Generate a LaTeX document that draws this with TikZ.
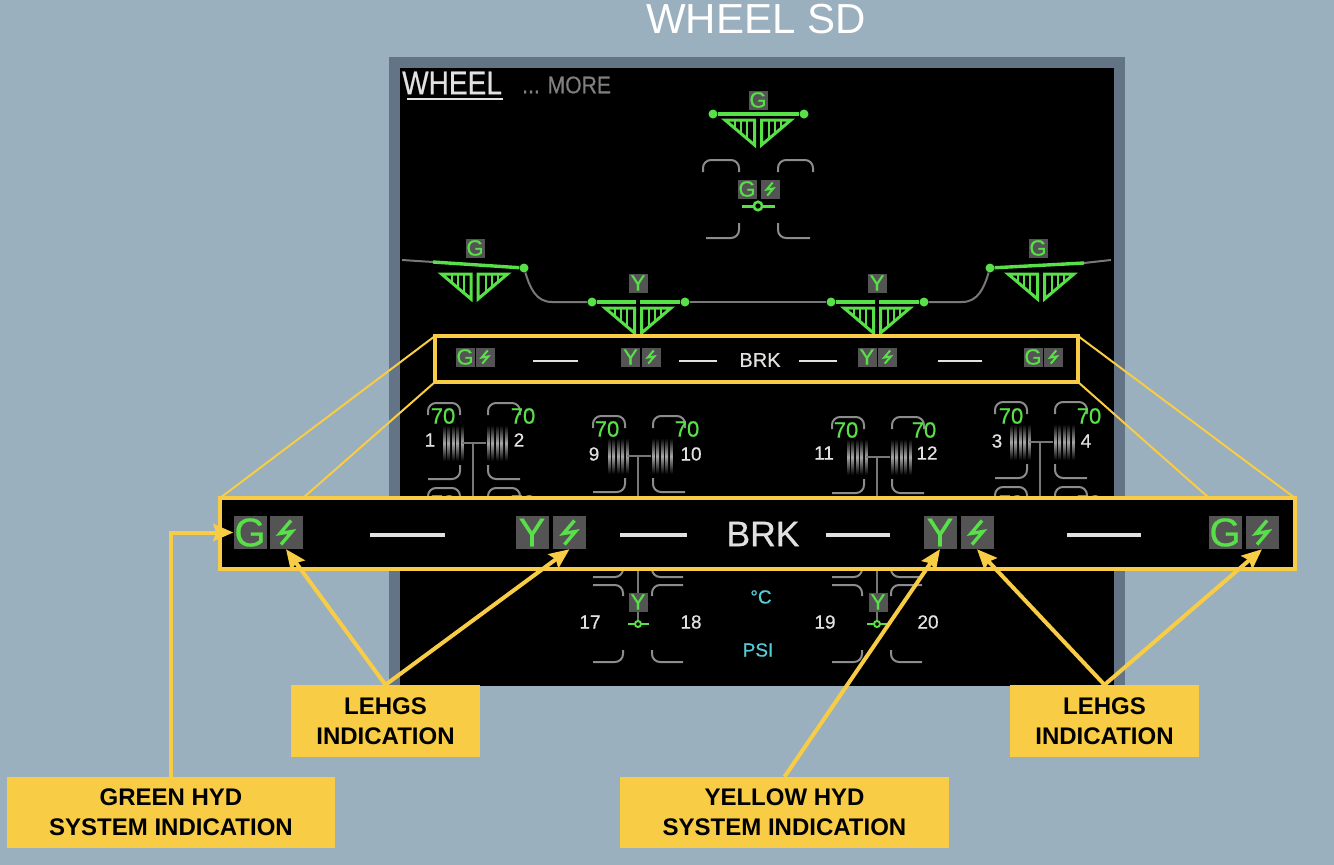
\documentclass[tikz,border=0pt]{standalone}
\usepackage{fontspec}
\setmainfont{Liberation Sans}
\newfontfamily\ecamfont[FakeBold=0.6]{Liberation Sans}
\usetikzlibrary{arrows.meta, calc}
\definecolor{skybg}{RGB}{155,176,190}
\definecolor{slateframe}{RGB}{100,116,135}
\definecolor{callyellow}{RGB}{248,204,68}
\definecolor{ecamgreen}{RGB}{88,224,72}
\definecolor{taggray}{RGB}{84,84,84}
\definecolor{linegray}{RGB}{120,120,120}
\definecolor{capgray}{RGB}{140,140,140}
\definecolor{numwhite}{RGB}{225,225,225}
\definecolor{ecamcyan}{RGB}{85,205,215}
\tikzset{
  smalltag/.style={rectangle, fill=taggray, text=ecamgreen, inner sep=0pt,
    minimum width=19pt, minimum height=19pt, font=\ecamfont\fontsize{22}{22}\selectfont},
  bigtag/.style={rectangle, fill=taggray, text=ecamgreen, inner sep=0pt,
    minimum width=33pt, minimum height=33pt, font=\ecamfont\fontsize{40}{40}\selectfont},
  smallbolt/.style={draw=ecamgreen, line width=2pt},
  bigbolt/.style={draw=ecamgreen, line width=3.4pt},
  brakeline/.style={draw=ecamgreen, line width=3pt, line join=miter},
  brakebar/.style={draw=ecamgreen, line width=3.4pt},
  dotend/.style={circle, fill=ecamgreen, inner sep=0pt, minimum size=9pt},
  hydline/.style={draw=linegray, line width=2pt},
  capline/.style={draw=capgray, line width=2pt, rounded corners=8pt},
  tempval/.style={text=ecamgreen, inner sep=0pt, font=\ecamfont\fontsize{22}{22}\selectfont},
  wheelnum/.style={text=numwhite, inner sep=0pt, font=\ecamfont\fontsize{19}{19}\selectfont},
  unitlabel/.style={text=ecamcyan, inner sep=0pt, font=\ecamfont\fontsize{19}{19}\selectfont},
  callbox/.style={rectangle, fill=callyellow, text=black, align=center, inner sep=0pt,
    font=\fontsize{24}{30}\selectfont\bfseries},
  callarrow/.style={-{Stealth[length=20pt,width=17pt,inset=3pt]}, draw=callyellow, line width=4pt},
  zoomline/.style={draw=callyellow, line width=2pt},
  brkdash/.style={draw=numwhite, line width=2.6pt}
}
\newcommand{\brakesym}[2]{
  \draw[brakeline] (#1-33,#2) -- (#1-3.5,#2) -- (#1-3.5,#2+25) -- cycle;
  \draw[brakeline] (#1+33,#2) -- (#1+3.5,#2) -- (#1+3.5,#2+25) -- cycle;
  \foreach \d in {10,16,22} {
    \draw[brakeline, line width=2pt] (#1-33+\d,#2) -- ++(0,\d*0.85);
    \draw[brakeline, line width=2pt] (#1+33-\d,#2) -- ++(0,\d*0.85);
  }
}
\newcommand{\tirestripes}[2]{
  \foreach \s in {0,4.5,9,13.5,18}
    \shade[top color=black, bottom color=black, middle color=white!65!black]
      (#1+\s,#2-18) rectangle ++(2.6,36);
}
\begin{document}
\begin{tikzpicture}[x=1pt,y=-1pt]
  \fill[skybg] (0,0) rectangle (1334,865);
  \useasboundingbox (0,0) rectangle (1334,865);
  \fill[slateframe] (389,57) rectangle (1125,686);
  \fill[black] (400,68) rectangle (1114,686);
  \node[text=white, inner sep=0pt, font=\fontsize{42}{42}\selectfont] (title) at (756,19) {WHEEL SD};
  \node[anchor=west, text=numwhite, inner sep=0pt, font=\ecamfont\fontsize{33}{33}\selectfont] (wheelhead) at (402,83) {\scalebox{0.85}[1]{WHEEL}};
  \draw[numwhite, line width=2.4pt] (407,99) -- (503,99);
  \node[anchor=west, text=gray, inner sep=0pt, font=\ecamfont\fontsize{24}{24}\selectfont] (morehead) at (522,85) {\scalebox{0.88}[1]{... MORE}};

  \brakesym{758}{120}
  \brakesym{474.5}{274}
  \brakesym{638}{308}
  \brakesym{877}{308}
  \brakesym{1041}{274}

  \coordinate (farleft) at (402,260);
  \coordinate (leftstart) at (433,262);
  \coordinate (farright) at (1111,260);
  \coordinate (rightend) at (1084,263);
  \node[dotend] (topa) at (713,114) {};
  \node[dotend] (topb) at (804,114) {};
  \node[dotend] (lefta) at (524,268) {};
  \node[dotend] (ya) at (592,302) {};
  \node[dotend] (yb) at (685,302) {};
  \node[dotend] (yc) at (831,302) {};
  \node[dotend] (yd) at (924,302) {};
  \node[dotend] (righta) at (990,268) {};
  \draw[hydline] (farleft) -- (leftstart);
  \draw[hydline] (farright) -- (rightend);
  \draw[hydline] (lefta) .. controls (530,288) and (536,302) .. (552,302) -- (ya);
  \draw[hydline] (yb) -- (yc);
  \draw[hydline] (yd) -- (962,302) .. controls (978,302) and (984,288) .. (righta);
  \draw[brakebar] (topa) -- (topb);
  \draw[brakebar] (leftstart) -- (lefta);
  \draw[brakebar] (righta) -- (rightend);
  \draw[brakebar] (ya) -- (636,302);
  \draw[brakebar] (640,302) -- (yb);
  \draw[brakebar] (yc) -- (875,302);
  \draw[brakebar] (879,302) -- (yd);

  \node[smalltag] (gtop) at (758,100) {G};
  \node[smalltag] (gleft) at (475,248) {G};
  \node[smalltag] (yleft) at (638,283) {Y};
  \node[smalltag] (yright) at (877,283) {Y};
  \node[smalltag] (gright) at (1038,248) {G};

  \draw[capline] (703,172) -- (703,160) -- (739,160) -- (739,172);
  \draw[capline] (778,172) -- (778,160) -- (813,160) -- (813,172);
  \draw[capline] (706,238) -- (739,238) -- (739,223);
  \draw[capline] (778,223) -- (778,238) -- (810,238);
  \node[smalltag] (gnose) at (747,189) {G};
  \node[smalltag] (boltnose) at (770,189) {};
  \draw[ecamgreen, line width=3pt] (742,206) -- (775,206);
  \draw[ecamgreen, line width=2.6pt, fill=black] (758,206) circle (4.2);

  \foreach \ax/\ay in {473/443, 638/456, 877/457, 1040/442} {
    \draw[capline] (\ax-45,\ay-28) -- (\ax-45,\ay-40) -- (\ax-13,\ay-40) -- (\ax-13,\ay-28);
    \draw[capline] (\ax+15,\ay-28) -- (\ax+15,\ay-40) -- (\ax+47,\ay-40) -- (\ax+47,\ay-28);
    \draw[capline] (\ax-45,\ay+36) -- (\ax-13,\ay+36) -- (\ax-13,\ay+22);
    \draw[capline] (\ax+15,\ay+22) -- (\ax+15,\ay+36) -- (\ax+47,\ay+36);
    \draw[capline] (\ax-45,\ay+62) -- (\ax-45,\ay+45) -- (\ax-13,\ay+45) -- (\ax-13,\ay+62);
    \draw[capline] (\ax+15,\ay+62) -- (\ax+15,\ay+45) -- (\ax+47,\ay+45) -- (\ax+47,\ay+62);
    \tirestripes{\ax-30}{\ay}
    \tirestripes{\ax+14}{\ay}
    \draw[hydline, line width=2.4pt] (\ax-11,\ay) -- (\ax+13,\ay);
    \draw[hydline, line width=2.4pt] (\ax,\ay) -- (\ax,498);
  }
  \foreach \vx/\vy/\txt in {443/416/70, 523/416/70, 607/429/70, 687/429/70,
      846/430/70, 924/430/70, 1011/416/70, 1089/416/70,
      443/503/70, 523/503/70, 1011/503/70, 1089/503/70}
    \node[tempval] at (\vx,\vy) {\txt};
  \foreach \nx/\ny/\txt in {430/440/1, 519/440/2, 594/454/9, 691/454/10,
      824/453/11, 927/453/12, 997/441/3, 1086/441/4,
      590/622/17, 691/622/18, 825/622/19, 928/622/20}
    \node[wheelnum] at (\nx,\ny) {\txt};
  \foreach \ax in {638,877} {
    \draw[capline] (\ax-45,577) -- (\ax-15,577) -- (\ax-15,566);
    \draw[capline] (\ax+14,566) -- (\ax+14,577) -- (\ax+45,577);
    \draw[capline] (\ax-45,585) -- (\ax-15,585) -- (\ax-15,596);
    \draw[capline] (\ax+14,596) -- (\ax+14,585) -- (\ax+45,585);
    \draw[capline] (\ax-45,662) -- (\ax-15,662) -- (\ax-15,650);
    \draw[capline] (\ax+14,650) -- (\ax+14,662) -- (\ax+45,662);
    \draw[hydline, line width=2.4pt] (\ax,570) -- (\ax,624);
    \draw[ecamgreen, line width=2.8pt] (\ax-10,624) -- (\ax+11,624);
    \draw[ecamgreen, line width=2pt, fill=black] (\ax,624) circle (3);
  }
  \node[smalltag] (ylow) at (638,602) {Y};
  \node[smalltag] (ylowb) at (878,602) {Y};
  \node[unitlabel] (degc) at (761,597) {°C};
  \node[unitlabel] (psi) at (758,650) {PSI};

  \node[smalltag] (ga) at (465,357) {G};
  \node[smalltag] (boltsa) at (485,357) {};
  \node[smalltag] (yb1) at (630.5,357) {Y};
  \node[smalltag] (boltsb) at (651,357) {};
  \node[smalltag] (yc1) at (867,357) {Y};
  \node[smalltag] (boltsc) at (887.5,357) {};
  \node[smalltag] (gd) at (1033,357) {G};
  \node[smalltag] (boltsd) at (1053.5,357) {};
  \draw[brkdash] (533,361) -- (578,361);
  \draw[brkdash] (679,361) -- (717,361);
  \draw[brkdash] (799,361) -- (837,361);
  \draw[brkdash] (938,361) -- (982,361);
  \node[text=numwhite, inner sep=0pt, font=\ecamfont\fontsize{20}{20}\selectfont] (brksmall) at (760,360) {BRK};
  \node[rectangle, draw=callyellow, line width=3.5pt, inner sep=0pt, outer sep=0pt,
    minimum width=643pt, minimum height=46pt] (bandsmall) at (756.5,359) {};

  \coordinate (fanb) at (303,498);
  \coordinate (fanc) at (1209,498);
  \node[rectangle, fill=black, draw=callyellow, line width=3.5pt, inner sep=0pt, outer sep=0pt,
    minimum width=1075pt, minimum height=71pt] (bandbig) at (757.5,533.5) {};
  \draw[zoomline] (bandsmall.north west) -- (bandbig.north west);
  \draw[zoomline] (bandsmall.south west) -- (fanb);
  \draw[zoomline] (bandsmall.north east) -- (bandbig.north east);
  \draw[zoomline] (bandsmall.south east) -- (fanc);

  \node[bigtag] (gbiga) at (250,532.5) {G};
  \node[bigtag] (boltbiga) at (286,532.5) {};
  \node[bigtag] (ybigb) at (532,532.5) {Y};
  \node[bigtag] (boltbigb) at (569.5,532.5) {};
  \node[bigtag] (ybigc) at (940,532.5) {Y};
  \node[bigtag] (boltbigc) at (977,532.5) {};
  \node[bigtag] (gbigd) at (1225,532.5) {G};
  \node[bigtag] (boltbigd) at (1262,532.5) {};
  \draw[brkdash, line width=3.4pt] (370,535) -- (445,535);
  \draw[brkdash, line width=3.4pt] (620,535) -- (687,535);
  \draw[brkdash, line width=3.4pt] (826,535) -- (890,535);
  \draw[brkdash, line width=3.4pt] (1067,535) -- (1141,535);
  \node[text=numwhite, inner sep=0pt, font=\ecamfont\fontsize{35.5}{36}\selectfont] (brkbig) at (763,534) {BRK};

  \foreach \t in {boltnose,boltsa,boltsb,boltsc,boltsd}
    \draw[smallbolt, shift={(\t.center)}, scale=0.55] (5,-12) -- (-6,1) -- (6,-1) -- (-5,12);
  \foreach \t in {boltbiga,boltbigb,boltbigc,boltbigd}
    \draw[bigbolt, shift={(\t.center)}] (5,-12) -- (-6,1) -- (6,-1) -- (-5,12);

  \node[callbox, minimum width=189pt, minimum height=72pt] (lehgsleft) at (385.5,721) {LEHGS\\INDICATION};
  \node[callbox, minimum width=189pt, minimum height=72pt] (lehgsright) at (1104.5,721) {LEHGS\\INDICATION};
  \node[callbox, minimum width=328pt, minimum height=71pt] (greenhyd) at (171,812.5) {GREEN HYD\\SYSTEM INDICATION};
  \node[callbox, minimum width=329pt, minimum height=71pt] (yellowhyd) at (784.5,812.5) {YELLOW HYD\\SYSTEM INDICATION};

  \draw[callarrow] (lehgsleft.north) -- (boltbiga.south);
  \draw[callarrow] (lehgsleft.north) -- (boltbigb.south);
  \draw[callarrow] (lehgsright.north) -- (boltbigc.south);
  \draw[callarrow] (lehgsright.north) -- (boltbigd.south);
  \draw[callarrow] (yellowhyd.north) -- (ybigc.south);
  \draw[callarrow] (greenhyd.north) |- (gbiga.west);
\end{tikzpicture}
\end{document}
